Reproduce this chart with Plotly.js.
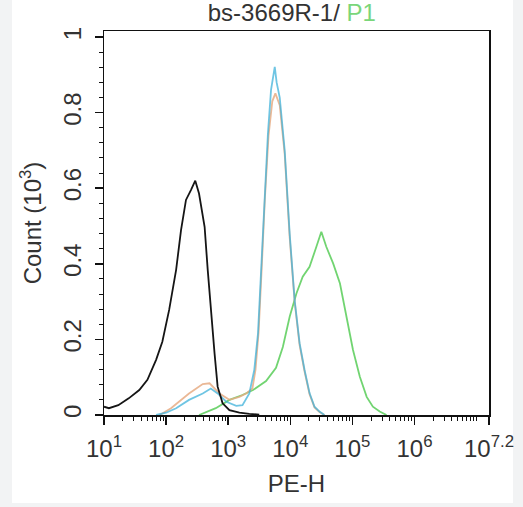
<!DOCTYPE html>
<html>
<head>
<meta charset="utf-8">
<script src="https://cdn.plot.ly/plotly-3.0.1.min.js"></script>
<style>
  html, body { margin: 0; padding: 0; background: #f2f3f4; }
  #panel { position: absolute; left: 12px; top: 0; width: 501px; height: 503px; background: #ffffff; }
  #chart { position: absolute; left: 0; top: 0; width: 523px; height: 507px; }
</style>
</head>
<body>
<div id="panel"></div>
<div id="chart"></div>
<script>
// PE-H fluorescence values and counts (x 10^3)
const blackX = [10, 12, 17, 25, 37, 50, 69, 87, 112, 145, 174, 209, 251, 295, 339, 417, 468, 525, 603, 676, 813, 1047, 1514, 2188, 3162];
const blackY = [0.022, 0.018, 0.026, 0.044, 0.066, 0.093, 0.146, 0.194, 0.278, 0.384, 0.489, 0.569, 0.595, 0.62, 0.586, 0.498, 0.384, 0.278, 0.163, 0.075, 0.031, 0.013, 0.006, 0.003, 0.001];

const blueX = [69, 100, 145, 234, 389, 525, 676, 933, 1349, 1698, 2188, 2630, 3020, 3388, 3802, 4365, 4898, 5623, 6026, 6761, 8128, 9772, 11749, 14125, 16982, 20417, 24547, 29512, 35481];
const blueY = [0.0, 0.006, 0.018, 0.04, 0.057, 0.07, 0.057, 0.035, 0.024, 0.026, 0.057, 0.119, 0.216, 0.392, 0.569, 0.745, 0.86, 0.921, 0.88, 0.84, 0.70, 0.48, 0.304, 0.19, 0.119, 0.058, 0.022, 0.009, 0.0];

const orangeX = [79, 120, 234, 389, 501, 724, 1047, 1514, 1950, 2455, 2754, 3090, 3467, 3890, 4467, 5129, 5754, 6761, 8128, 9772, 11749, 14125, 16982, 20417, 24547, 29512, 35481];
const orangeY = [0.0, 0.018, 0.057, 0.082, 0.084, 0.057, 0.04, 0.048, 0.057, 0.07, 0.12, 0.22, 0.39, 0.57, 0.74, 0.83, 0.851, 0.82, 0.69, 0.47, 0.30, 0.185, 0.115, 0.055, 0.02, 0.008, 0.0];

const greenX = [339, 631, 1047, 1698, 2512, 4074, 5888, 7586, 9772, 12589, 15849, 20417, 26303, 31623, 38019, 48978, 63096, 79433, 102329, 131826, 169824, 213796, 275423, 354813];
const greenY = [0.0, 0.018, 0.04, 0.053, 0.066, 0.09, 0.125, 0.18, 0.26, 0.322, 0.366, 0.392, 0.445, 0.485, 0.445, 0.401, 0.348, 0.26, 0.172, 0.101, 0.048, 0.022, 0.009, 0.0];

const xTickVals = [10, 100, 1000, 10000, 100000, 1000000, 15848932];
const xTickText = ['10<sup>1</sup>', '10<sup>2</sup>', '10<sup>3</sup>', '10<sup>4</sup>', '10<sup>5</sup>', '10<sup>6</sup>', '10<sup>7.2</sup>'];
const yTickVals = [0, 0.2, 0.4, 0.6, 0.8, 1];
const yTickText = ['0', '0.2', '0.4', '0.6', '0.8', '1'];

// minor log ticks (2..9 per decade, plus 10^7)
const xMinor = [];
for (let d = 1; d <= 7; d++) {
  for (let k = 1; k <= 9; k++) {
    const v = k * Math.pow(10, d);
    if (k === 1 && d < 7) continue;
    if (v < 15848932) xMinor.push(v);
  }
}

const lineW = 1.8;
const traces = [
  { x: greenX, y: greenY, mode: 'lines', line: { color: '#62cf62', width: lineW }, opacity: 0.9 },
  { x: orangeX, y: orangeY, mode: 'lines', line: { color: '#e6ac84', width: lineW }, opacity: 0.85 },
  { x: blueX, y: blueY, mode: 'lines', line: { color: '#3fb2da', width: lineW }, opacity: 0.75 },
  { x: blackX, y: blackY, mode: 'lines', line: { color: '#151515', width: lineW } }
];

const fontFam = 'Liberation Sans, Arial, sans-serif';
const fs = 24;
const layout = {
  width: 523, height: 507,
  margin: { l: 104, r: 34, t: 31, b: 92 },
  paper_bgcolor: 'rgba(0,0,0,0)',
  plot_bgcolor: '#ffffff',
  showlegend: false,
  font: { family: fontFam, color: '#333333', size: fs },
  title: {
    text: 'bs-3669R-1/ <span style="color:#7ad67a">P1</span>',
    font: { family: fontFam, size: fs, color: '#333333' },
    xref: 'container', x: 0.558, xanchor: 'center',
    yref: 'container', y: 0.975, yanchor: 'middle'
  },
  xaxis: {
    type: 'log', range: [1, 7.2],
    tickmode: 'array', tickvals: xTickVals, ticktext: xTickText,
    ticks: 'outside', ticklen: 8, tickwidth: 1.5, tickcolor: '#111',
    ticklabelstandoff: 4,
    minor: { tickmode: 'array', tickvals: xMinor, ticks: 'outside', ticklen: 4, tickwidth: 1, tickcolor: '#111' },
    showline: true, linecolor: '#111', linewidth: 1.5, mirror: true,
    showgrid: false, zeroline: false,
    tickfont: { size: fs, color: '#333' },
    title: { text: 'PE-H', font: { size: fs, color: '#333' }, standoff: 14 }
  },
  yaxis: {
    range: [0, 1.016],
    tickmode: 'array', tickvals: yTickVals, ticktext: yTickText,
    tickangle: -90,
    ticks: 'outside', ticklen: 8, tickwidth: 1.5, tickcolor: '#111',
    ticklabelstandoff: 4,
    minor: { dtick: 0.04, ticks: 'outside', ticklen: 4, tickwidth: 1, tickcolor: '#111' },
    showline: true, linecolor: '#111', linewidth: 1.5, mirror: true,
    showgrid: false, zeroline: false,
    tickfont: { size: fs, color: '#333' },
    title: { text: 'Count (10<sup>3</sup>)', font: { size: fs, color: '#333' }, standoff: 10 }
  }
};

Plotly.newPlot('chart', traces, layout, { displayModeBar: false, staticPlot: true });
</script>
</body>
</html>
